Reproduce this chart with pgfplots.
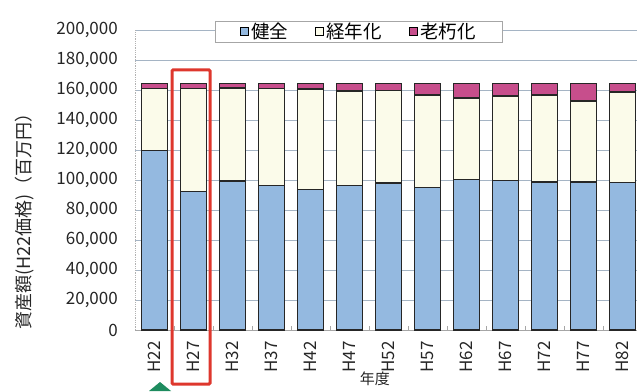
\documentclass[border=0pt]{standalone}
\usepackage{fontspec}
\setmainfont{Noto Sans CJK JP}
\usepackage{pgfplots}
\pgfplotsset{compat=1.18}
\usepackage{pgfplotstable}

\definecolor{kenzen}{RGB}{148,185,224}
\definecolor{keinen}{RGB}{251,251,234}
\definecolor{rokyu}{RGB}{199,78,140}
\definecolor{gridc}{RGB}{165,180,196}
\definecolor{hilite}{RGB}{222,55,45}
\definecolor{arrowg}{RGB}{30,140,95}

% 資産額 (百万円, H22価格) by 年度: 健全 / 経年化 / 老朽化
\pgfplotstableread{
x  label  kenzen  keinen  rokyu
0  H22    119500  41300   3700
1  H27    92200   68800   3500
2  H32    99300   62000   3200
3  H37    96200   64800   3500
4  H42    93800   66900   3800
5  H47    96500   62800   5200
6  H52    98000   61700   4800
7  H57    95000   61700   7800
8  H62    100400  54300   9800
9  H67    99500   56500   8500
10 H72    98700   58000   7800
11 H77    98700   54000   11800
12 H82    98200   60500   5800
}\assets

\begin{document}
\begin{tikzpicture}
\path[use as bounding box] (0,0) rectangle (637pt,391pt);
\begin{axis}[
  at={(135pt,61pt)}, anchor=south west,
  scale only axis, width=502pt, height=300pt,
  ybar stacked, bar width=0.667,
  xmin=-0.5, xmax=12.37, ymin=0, ymax=200000,
  clip=false,
  axis x line*=bottom, axis y line*=left,
  x axis line style={-, gray!70, line width=0.8pt},
  y axis line style={-, gray!60, densely dotted, line width=0.8pt},
  xtick={0,...,12},
  xticklabels from table={\assets}{label},
  minor xtick={0.5,1.5,...,11.5},
  major tick length=0pt, minor tick length=4pt,
  minor tick style={gray!70},
  ytick={0,20000,...,200000},
  ymajorgrids, major grid style={gridc, line width=0.7pt},
  scaled y ticks=false,
  /pgf/number format/fixed,
  /pgf/number format/1000 sep={,},
  /pgf/number format/assume math mode=true,
  ticklabel style={font=\fontsize{17}{19}\selectfont, text=black!85},
  yticklabel style={anchor=east, inner sep=0pt, xshift=-17pt},
  xticklabel style={rotate=90, anchor=east, inner sep=0pt, xshift=-11pt},
  ylabel={資産額(H22価格)（百万円）},
  ylabel style={at={(axis description cs:-0.220,0.377)}, anchor=center,
    font=\fontsize{18}{20}\selectfont, text=black!85},
  xlabel={年度},
  xlabel style={at={(axis description cs:0.478,-0.163)}, anchor=center,
    font=\fontsize{15}{17}\selectfont, text=black!85},
  legend style={at={(0.446,0.995)}, anchor=center, legend columns=3,
    draw=gray!70, fill=white, font=\fontsize{18.5}{20}\selectfont,
    inner xsep=25pt, inner ysep=0pt,
    /tikz/every even column/.append style={column sep=25pt}},
  legend image code/.code={\draw[#1, draw=black, line width=1.2pt] (0pt,-4pt) rectangle (8pt,4pt);},
  every axis plot/.append style={draw=black!85, line width=1.3pt},
]
\addplot[fill=kenzen] table[x=x, y=kenzen] {\assets};
\addplot[fill=keinen] table[x=x, y=keinen] {\assets};
\addplot[fill=rokyu]  table[x=x, y=rokyu]  {\assets};
\legend{健全, 経年化, 老朽化}
% highlight frame around H27
\draw[hilite, line width=3pt, rounded corners=1pt]
  (axis cs:0.449,173333) rectangle (axis cs:1.423,-36000);
\end{axis}
\fill[arrowg] (149pt,0pt) -- (160pt,9pt) -- (171pt,0pt) -- cycle;
\end{tikzpicture}
\end{document}
